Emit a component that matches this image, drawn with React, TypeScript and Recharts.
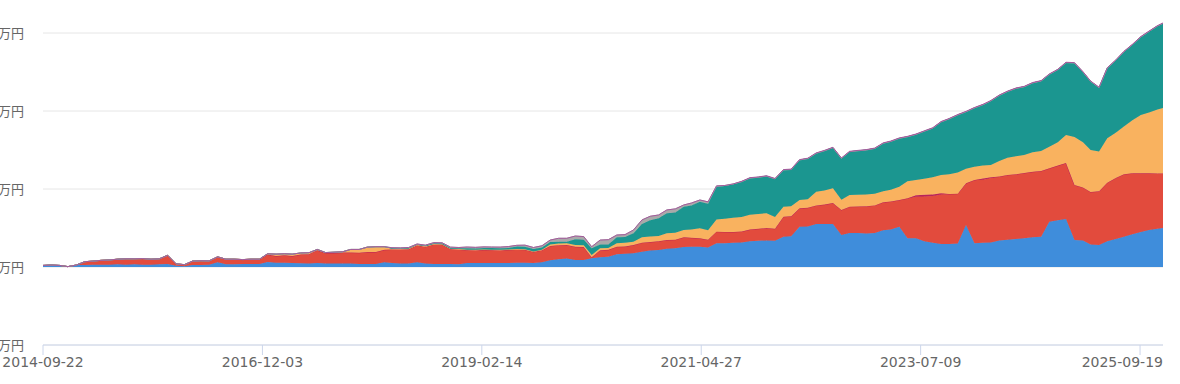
import React from 'react';
import { AreaChart, Area, XAxis, YAxis, CartesianGrid } from 'recharts';

const dates: string[] = [
  '2014-09-22', '2014-10-22', '2014-11-22', '2014-12-22',
  '2015-01-22', '2015-02-22', '2015-03-22', '2015-04-22', '2015-05-22', '2015-06-22', '2015-07-22', '2015-08-22', '2015-09-22', '2015-10-22', '2015-11-22', '2015-12-22',
  '2016-01-22', '2016-02-22', '2016-03-22', '2016-04-22', '2016-05-22', '2016-06-22', '2016-07-22', '2016-08-22', '2016-09-22', '2016-10-22', '2016-11-22', '2016-12-22',
  '2017-01-22', '2017-02-22', '2017-03-22', '2017-04-22', '2017-05-22', '2017-06-22', '2017-07-22', '2017-08-22', '2017-09-22', '2017-10-22', '2017-11-22', '2017-12-22',
  '2018-01-22', '2018-02-22', '2018-03-22', '2018-04-22', '2018-05-22', '2018-06-22', '2018-07-22', '2018-08-22', '2018-09-22', '2018-10-22', '2018-11-22', '2018-12-22',
  '2019-01-22', '2019-02-22', '2019-03-22', '2019-04-22', '2019-05-22', '2019-06-22', '2019-07-22', '2019-08-22', '2019-09-22', '2019-10-22', '2019-11-22', '2019-12-22',
  '2020-01-22', '2020-02-22', '2020-03-22', '2020-04-22', '2020-05-22', '2020-06-22', '2020-07-22', '2020-08-22', '2020-09-22', '2020-10-22', '2020-11-22', '2020-12-22',
  '2021-01-22', '2021-02-22', '2021-03-22', '2021-04-22', '2021-05-22', '2021-06-22', '2021-07-22', '2021-08-22', '2021-09-22', '2021-10-22', '2021-11-22', '2021-12-22',
  '2022-01-22', '2022-02-22', '2022-03-22', '2022-04-22', '2022-05-22', '2022-06-22', '2022-07-22', '2022-08-22', '2022-09-22', '2022-10-22', '2022-11-22', '2022-12-22',
  '2023-01-22', '2023-02-22', '2023-03-22', '2023-04-22', '2023-05-22', '2023-06-22', '2023-07-22', '2023-08-22', '2023-09-22', '2023-10-22', '2023-11-22', '2023-12-22',
  '2024-01-22', '2024-02-22', '2024-03-22', '2024-04-22', '2024-05-22', '2024-06-22', '2024-07-22', '2024-08-22', '2024-09-22', '2024-10-22', '2024-11-22', '2024-12-22',
  '2025-01-22', '2025-02-22', '2025-03-22', '2025-04-22', '2025-05-22', '2025-06-22', '2025-07-22', '2025-08-22', '2025-09-22', '2025-10-22', '2025-11-22', '2025-12-12',
];

// values in 万円
const blueSeries: number[] = [
  20, 25, 20, 5, 25, 25, 30, 30, 30, 35,
  30, 35, 30, 30, 35, 40, 15, 10, 25, 25,
  30, 60, 35, 35, 40, 40, 40, 65, 55, 55,
  50, 48, 45, 50, 45, 45, 45, 45, 40, 40,
  40, 60, 50, 45, 45, 60, 45, 40, 40, 40,
  35, 50, 50, 50, 50, 50, 50, 55, 55, 50,
  60, 85, 100, 110, 90, 90, 111, 125, 130, 165,
  170, 175, 195, 210, 218, 235, 240, 255, 260, 260,
  250, 304, 305, 310, 315, 330, 335, 340, 335, 388,
  395, 517, 520, 550, 551, 551, 410, 436, 436, 430,
  436, 470, 480, 517, 368, 368, 330, 310, 295, 295,
  300, 538, 304, 310, 314, 340, 350, 360, 368, 380,
  388, 581, 600, 615, 346, 340, 290, 282, 330, 360,
  388, 420, 450, 474, 490, 500,
];

const redSeries: number[] = [
  0, 0, 0, 0, 0, 43, 45, 55, 60, 65,
  75, 70, 78, 70, 70, 110, 25, 20, 50, 55,
  48, 70, 65, 65, 55, 60, 60, 95, 85, 85,
  90, 112, 120, 165, 135, 135, 140, 140, 143, 152,
  152, 160, 175, 180, 183, 220, 215, 250, 248, 190,
  190, 168, 165, 170, 168, 165, 170, 170, 167, 145,
  155, 185, 180, 172, 170, 165, 13, 90, 90, 95,
  92, 107, 117, 110, 112, 111, 110, 126, 115, 108,
  100, 149, 145, 139, 140, 150, 155, 160, 155, 257,
  255, 235, 240, 240, 249, 269, 321, 337, 339, 350,
  354, 360, 360, 342, 512, 532, 575, 600, 635, 641,
  640, 535, 811, 810, 827, 820, 830, 830, 837, 840,
  843, 684, 700, 718, 705, 680, 672, 688, 750, 781,
  802, 781, 751, 727, 710, 700,
];

const crimsonSeries: number[] = [
  0, 0, 0, 0, 0, 0, 0, 0, 0, 0,
  0, 0, 0, 0, 0, 0, 0, 0, 0, 0,
  0, 0, 0, 0, 0, 0, 0, 0, 0, 10,
  0, 0, 0, 0, 0, 0, 0, 0, 0, 0,
  0, 0, 0, 0, 0, 0, 0, 0, 0, 0,
  0, 0, 0, 0, 0, 0, 0, 0, 0, 0,
  0, 0, 0, 0, 0, 0, 0, 0, 0, 0,
  0, 0, 0, 0, 0, 0, 0, 0, 0, 0,
  0, 0, 0, 0, 0, 0, 0, 0, 0, 0,
  0, 0, 0, 0, 0, 0, 0, 0, 0, 0,
  0, 0, 0, 0, 0, 20, 20, 20, 15, 0,
  0, 0, 0, 15, 10, 0, 0, 0, 0, 0,
  0, 0, 0, 0, 0, 0, 0, 0, 0, 0,
  0, 0, 0, 0, 0, 0,
];

const orangeSeries: number[] = [
  0, 0, 0, 0, 0, 0, 0, 0, 0, 0,
  0, 0, 0, 0, 0, 0, 0, 0, 0, 0,
  0, 0, 0, 0, 0, 0, 0, 10, 25, 20,
  25, 20, 18, 10, 5, 10, 10, 40, 42, 63,
  68, 40, 10, 8, 8, 5, 5, 5, 5, 5,
  5, 4, 5, 5, 4, 5, 5, 5, 6, 5,
  7, 20, 20, 22, 22, 25, 30, 25, 25, 44,
  48, 43, 69, 70, 67, 86, 90, 93, 105, 128,
  120, 157, 170, 181, 185, 190, 190, 190, 150, 128,
  130, 107, 110, 175, 180, 190, 130, 150, 150, 150,
  150, 140, 150, 171, 220, 195, 205, 220, 235, 254,
  270, 187, 171, 165, 157, 200, 220, 230, 231, 250,
  256, 277, 300, 359, 616, 580, 538, 510, 570, 579,
  610, 679, 749, 779, 820, 838,
];

const tealSeries: number[] = [
  0, 0, 0, 0, 0, 0, 0, 0, 0, 0,
  0, 0, 0, 0, 0, 0, 0, 0, 0, 0,
  0, 0, 0, 0, 0, 0, 0, 0, 0, 0,
  0, 0, 0, 0, 0, 0, 0, 0, 0, 0,
  0, 0, 7, 7, 7, 5, 10, 10, 10, 10,
  10, 18, 18, 20, 20, 20, 20, 32, 32, 30,
  28, 30, 25, 21, 73, 70, 86, 50, 45, 77,
  75, 107, 170, 210, 227, 256, 260, 299, 310, 341,
  340, 420, 420, 430, 454, 470, 470, 475, 490, 471,
  470, 513, 520, 493, 510, 520, 532, 555, 565, 570,
  580, 616, 620, 620, 570, 585, 610, 630, 680, 710,
  740, 730, 754, 780, 822, 840, 850, 870, 875, 890,
  898, 928, 930, 928, 948, 900, 880, 820, 900, 930,
  960, 970, 1000, 1040, 1070, 1086,
];

const graySeries: number[] = [
  0, 0, 0, 0, 0, 0, 0, 0, 0, 0,
  0, 0, 0, 0, 0, 0, 0, 0, 0, 0,
  0, 0, 0, 0, 0, 0, 0, 0, 0, 0,
  0, 0, 0, 0, 0, 0, 0, 0, 0, 0,
  0, 0, 5, 5, 7, 5, 5, 7, 7, 10,
  10, 16, 14, 13, 14, 15, 17, 16, 20, 20,
  22, 25, 43, 43, 42, 40, 20, 55, 60, 29,
  30, 42, 52, 50, 43, 43, 45, 22, 30, 22,
  25, 10, 5, 5, 0, 0, 0, 0, 0, 0,
  0, 0, 0, 0, 0, 0, 0, 0, 0, 0,
  0, 0, 0, 0, 0, 0, 0, 0, 0, 0,
  0, 0, 0, 0, 0, 0, 0, 0, 0, 0,
  0, 0, 0, 0, 0, 0, 0, 0, 0, 0,
  0, 0, 0, 0, 0, 0,
];

const purpleSeries: number[] = [
  0, 0, 0, 0, 0, 0, 0, 0, 0, 0,
  0, 0, 0, 0, 0, 0, 0, 0, 0, 0,
  0, 0, 0, 0, 0, 0, 0, 0, 0, 0,
  0, 0, 0, 0, 0, 0, 0, 0, 0, 0,
  0, 0, 0, 0, 0, 0, 0, 0, 0, 0,
  0, 0, 0, 0, 0, 0, 0, 0, 0, 0,
  0, 0, 0, 0, 0, 0, 0, 0, 0, 0,
  0, 0, 0, 0, 0, 0, 0, 0, 0, 0,
  0, 0, 0, 0, 5, 5, 5, 5, 5, 5,
  5, 5, 5, 5, 5, 5, 5, 5, 5, 5,
  5, 5, 5, 5, 5, 5, 5, 5, 5, 5,
  5, 5, 5, 5, 5, 5, 5, 5, 5, 5,
  5, 5, 5, 5, 5, 5, 5, 5, 5, 5,
  5, 5, 5, 5, 5, 5,
];

const xTickLabels: string[] = ['2014-09-22', '2016-12-03', '2019-02-14', '2021-04-27', '2023-07-09', '2025-09-19'];
const yTickValues: number[] = [-1000, 0, 1000, 2000, 3000];

const toTime = (s: string) => Date.parse(s + 'T00:00:00Z');

const data = dates.map((d, i) => ({
  t: toTime(d),
  blue: blueSeries[i],
  red: redSeries[i],
  crimson: crimsonSeries[i],
  orange: orangeSeries[i],
  teal: tealSeries[i],
  gray: graySeries[i],
  purple: purpleSeries[i],
}));

const seriesDefs = [
  { key: 'blue', color: '#3f8ddb' },
  { key: 'red', color: '#e24b3d' },
  { key: 'crimson', color: '#b8245c' },
  { key: 'orange', color: '#f9b25f' },
  { key: 'teal', color: '#1b9690' },
  { key: 'gray', color: '#a9a9a9' },
  { key: 'purple', color: '#a45a9c' },
];

const xTicks = xTickLabels.map(toTime);
const xDomain: [number, number] = [toTime(dates[0]), toTime(dates[dates.length - 1])];

const fmtDate = (t: number) => new Date(t).toISOString().slice(0, 10);
const fmtYen = (v: number) => {
  const s = Math.abs(v).toString().replace(/\B(?=(\d{3})+(?!\d))/g, ',');
  return `${v < 0 ? '-' : ''}${s}万円`;
};

const FONT = '"DejaVu Sans", "Noto Sans CJK JP", sans-serif';
const CHART_W = 1180;
const MARGIN_RIGHT = 17;

const XTick = (props: any) => {
  const { x, y, payload, index } = props;
  const isLast = index === xTickLabels.length - 1;
  const tx = isLast ? CHART_W - MARGIN_RIGHT : x;
  return (
    <text
      x={tx}
      y={y}
      dy="0.71em"
      textAnchor={isLast ? 'end' : 'middle'}
      fill="#666666"
      fontSize={14}
      fontFamily={FONT}
    >
      {fmtDate(payload.value)}
    </text>
  );
};

export default function App() {
  return (
    <div style={{ position: 'absolute', left: 0, top: 0, width: 1180, height: 384, background: '#fff' }}>
      <AreaChart
        width={CHART_W}
        height={384}
        data={data}
        margin={{ top: 9.6, right: MARGIN_RIGHT, bottom: 9, left: 0 }}
      >
        <CartesianGrid vertical={false} stroke="#e6e6e6" horizontalValues={yTickValues} />
        <XAxis
          dataKey="t"
          type="number"
          scale="linear"
          domain={xDomain}
          ticks={xTicks}
          interval={0}
          axisLine={{ stroke: '#ccd6eb' }}
          tickLine={{ stroke: '#ccd6eb' }}
          tickSize={10}
          tickMargin={2}
          height={30}
          allowDataOverflow
          tick={<XTick />}
        />
        <YAxis
          type="number"
          domain={[-1000, 3300]}
          ticks={yTickValues}
          interval={0}
          width={43}
          axisLine={false}
          tickLine={false}
          tickSize={0}
          tickMargin={19}
          allowDataOverflow
          tickFormatter={fmtYen}
          tick={{ fill: '#666666', fontSize: 13, fontFamily: FONT }}
        />
        {seriesDefs.map((s) => (
          <Area
            key={s.key}
            dataKey={s.key}
            stackId="1"
            type="linear"
            stroke={s.color}
            strokeWidth={1}
            fill={s.color}
            fillOpacity={1}
            dot={false}
            activeDot={false}
            isAnimationActive={false}
          />
        ))}
      </AreaChart>
    </div>
  );
}
